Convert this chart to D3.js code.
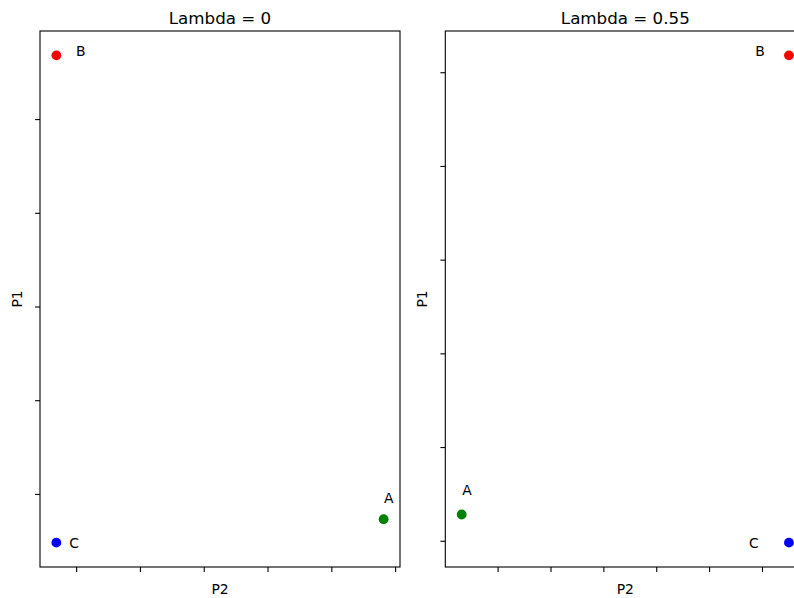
<!DOCTYPE html>
<html>
<head>
<meta charset="utf-8">
<script src="https://cdn.jsdelivr.net/npm/d3@7"></script>
<style>
  html, body { margin: 0; padding: 0; background: #fff; overflow: hidden; }
  svg { display: block; font-family: "DejaVu Sans", sans-serif; }
</style>
</head>
<body>
<svg id="chart" width="794" height="598"></svg>
<script>
// Three strategies, two values of lambda
const labels = ["A", "B", "C"];
const colors = ["#008000", "#ff0000", "#0000ff"];
const titles = ["Lambda = 0", "Lambda = 0.55"];

// P2 (horizontal) and P1 (vertical) per strategy, one array per panel
const p2Lambda0 = [4.82, -0.31, -0.31];
const p1Lambda0 = [-0.27, 4.68, -0.52];
const p2Lambda055 = [-0.68, 5.51, 5.51];
const p1Lambda055 = [0.28, 5.18, -0.02];

// Tick positions (labels hidden)
const xTicks = [0, 1, 2, 3, 4, 5];
const yTicksLambda0 = [0, 1, 2, 3, 4];
const yTicksLambda055 = [0, 1, 2, 3, 4, 5];

// Label placement relative to each point (pixels)
const labelOffsets = [
  [[0.4, -16], [19.6, 1], [12.8, 5.7]],
  [[0.5, -19.3], [-33.6, 1], [-40, 5.7]]
];

const panels = [
  { title: titles[0], p2: p2Lambda0, p1: p1Lambda0, yTicks: yTicksLambda0, left: 40 },
  { title: titles[1], p2: p2Lambda055, p1: p1Lambda055, yTicks: yTicksLambda055, left: 445.3 }
];

const svg = d3.select("#chart");
const plotW = 360, plotTop = 31, plotH = 536;

// matplotlib-style 5% padding around the data extent
function padded(vals) {
  const [a, b] = d3.extent(vals);
  const m = (b - a) * 0.05;
  return [a - m, b + m];
}

panels.forEach((p, i) => {
  const g = svg.append("g").attr("transform", `translate(${p.left},${plotTop})`);
  const x = d3.scaleLinear().domain(padded(p.p2)).range([0, plotW]);
  const y = d3.scaleLinear().domain(padded(p.p1)).range([plotH, 0]);

  const xAxis = d3.axisBottom(x).tickValues(xTicks).tickFormat("").tickSize(4.9).tickSizeOuter(0);
  const yAxis = d3.axisLeft(y).tickValues(p.yTicks).tickFormat("").tickSize(4.9).tickSizeOuter(0);

  const gx = g.append("g").attr("transform", `translate(0,${plotH})`).call(xAxis);
  const gy = g.append("g").call(yAxis);
  [gx, gy].forEach(a => {
    a.select(".domain").remove();
    a.selectAll(".tick line").attr("stroke", "#000").attr("stroke-width", 1.1);
  });

  // frame
  g.append("rect")
    .attr("x", 0).attr("y", 0).attr("width", plotW).attr("height", plotH)
    .attr("fill", "none").attr("stroke", "#000").attr("stroke-width", 1.1);

  // points
  g.selectAll("circle.pt")
    .data(labels)
    .join("circle")
    .attr("class", "pt")
    .attr("cx", (d, j) => x(p.p2[j]))
    .attr("cy", (d, j) => y(p.p1[j]))
    .attr("r", 4.9)
    .attr("fill", (d, j) => colors[j]);

  // point labels
  g.selectAll("text.lbl")
    .data(labels)
    .join("text")
    .attr("class", "lbl")
    .attr("x", (d, j) => x(p.p2[j]) + labelOffsets[i][j][0])
    .attr("y", (d, j) => y(p.p1[j]) + labelOffsets[i][j][1])
    .attr("font-size", 13.9)
    .attr("fill", "#000")
    .text(d => d);

  // title
  g.append("text")
    .attr("x", plotW / 2).attr("y", -7.5)
    .attr("text-anchor", "middle")
    .attr("font-size", 16.7)
    .text(p.title);

  // axis labels
  g.append("text")
    .attr("x", plotW / 2).attr("y", plotH + 27.3)
    .attr("text-anchor", "middle")
    .attr("font-size", 13.9)
    .text("P2");

  g.append("text")
    .attr("transform", `translate(-18,${plotH / 2}) rotate(-90)`)
    .attr("text-anchor", "middle")
    .attr("font-size", 13.9)
    .text("P1");
});
</script>
</body>
</html>
